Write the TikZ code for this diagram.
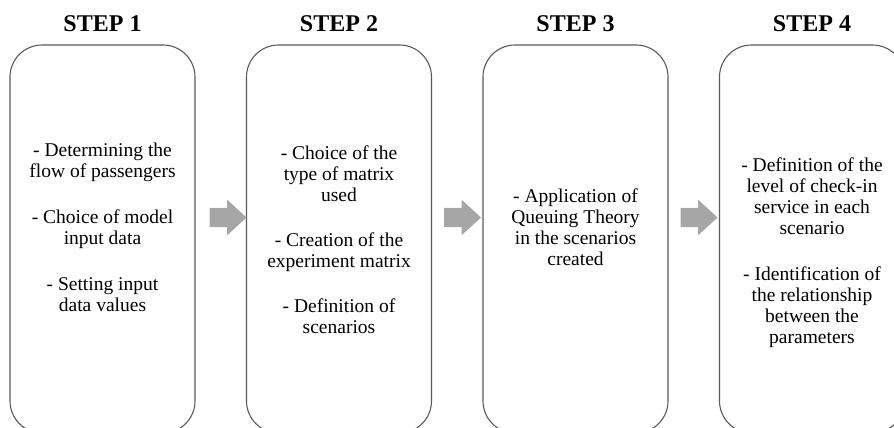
\documentclass[tikz,border=0pt]{standalone}
\usepackage{fontspec}
\setmainfont{Liberation Serif}
\usetikzlibrary{calc, positioning, shapes.arrows}
\definecolor{boxgray}{HTML}{595959}
\definecolor{arrowgray}{HTML}{A6A6A6}
\tikzset{
  stepbox/.style={draw=boxgray, line width=1.1pt, rounded corners=32pt,
    minimum width=185pt, minimum height=388pt, inner sep=0pt},
  steptitle/.style={font=\bfseries\fontsize{24}{28}\selectfont, anchor=base},
  steptext/.style={align=center, font=\fontsize{19.5}{21}\selectfont},
  blockarrow/.style={single arrow, fill=arrowgray, draw=none, inner xsep=0pt,
    inner ysep=9.5pt, minimum height=37pt, single arrow head extend=8pt,
    single arrow tip angle=85, single arrow head indent=0pt}
}

\begin{document}
\begin{tikzpicture}[x=1pt, y=-1pt]
\useasboundingbox (0,0) rectangle (894,428);
\clip (0,0) rectangle (894,428);
% boxes
\node[stepbox] (box1) at (102.5,239) {};
\node[stepbox] (box2) at (339,239) {};
\node[stepbox] (box3) at (575.5,239) {};
\node[stepbox] (box4) at (812,239) {};
% titles
\node[steptitle] (title1) at (102.5,32) {STEP 1};
\node[steptitle] (title2) at (339,32) {STEP 2};
\node[steptitle] (title3) at (575.5,32) {STEP 3};
\node[steptitle] (title4) at (812,32) {STEP 4};
% texts
\node[steptext] (text1) at (102.5,227) {- Determining the\\flow of passengers\\[25pt]- Choice of model\\input data\\[25pt]- Setting input\\data values};
\node[steptext] (text2) at (339,240) {- Choice of the\\type of matrix\\used\\[24pt]- Creation of the\\experiment matrix\\[24pt]- Definition of\\scenarios};
\node[steptext] (text3) at (575.5,227) {- Application of\\Queuing Theory\\in the scenarios\\created};
\node[steptext] (text4) at (812,253) {- Definition of the\\level of check-in\\service in each\\scenario\\[25pt]- Identification of\\the relationship\\between the\\parameters};
% arrows
\node[blockarrow] (arrow12) at ($(box1.east)!0.5!(box2.west)+(2,-21.5)$) {};
\node[blockarrow] (arrow23) at ($(box2.east)!0.5!(box3.west)+(0,-21.5)$) {};
\node[blockarrow] (arrow34) at ($(box3.east)!0.5!(box4.west)+(0,-21.5)$) {};
\end{tikzpicture}
\end{document}
